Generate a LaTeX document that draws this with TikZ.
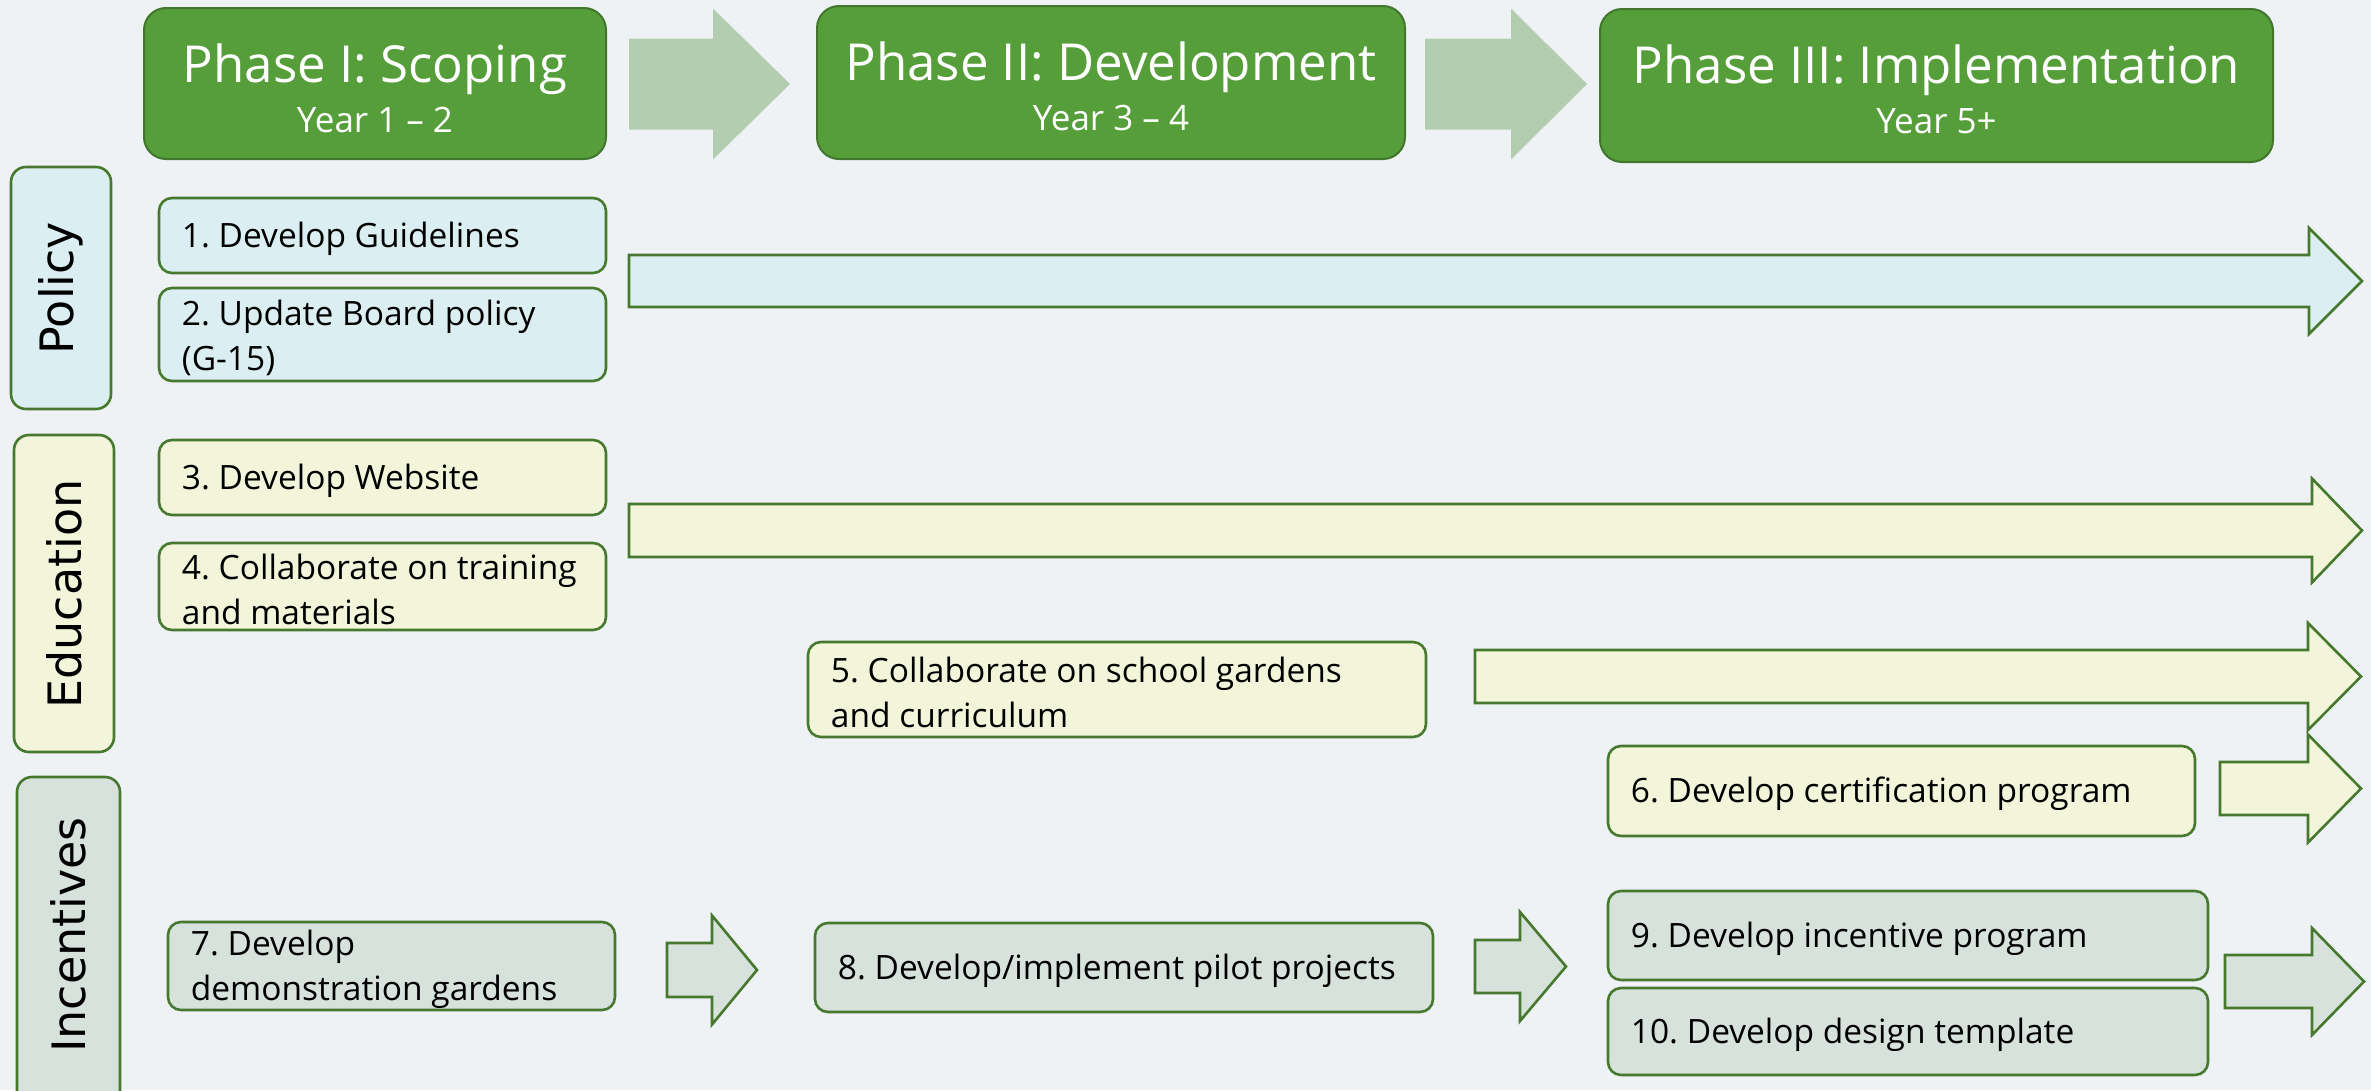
\documentclass[tikz,border=0pt]{standalone}
\usepackage{fontspec}
\setmainfont{Open Sans}
\newfontfamily\labfont{DejaVu Sans}
\definecolor{bg}{HTML}{EEF2F5}
\definecolor{phasefill}{HTML}{559E3A}
\definecolor{phaseline}{HTML}{41762C}
\definecolor{chev}{HTML}{B3CDB0}
\definecolor{polfill}{HTML}{DBEFF2}
\definecolor{edufill}{HTML}{F2F5DA}
\definecolor{incfill}{HTML}{D7E2DC}
\definecolor{edge}{HTML}{46792E}
\newcommand\taskbox[7]{%
  \pgfmathsetmacro\bw{#4-#2}\pgfmathsetmacro\bh{#5-#3}%
  \node[task, fill=#6, minimum width=\bw pt, minimum height=\bh pt] (#1) at ({(#2+#4)/2},{(#3+#5)/2}) {};
  \node[tasktxt] (#1-txt) at ([xshift=24pt,yshift=-3pt]#1.west) {#7};}
\newcommand\sidebox[8]{%
  \pgfmathsetmacro\bw{#4-#2}\pgfmathsetmacro\bh{#5-#3}%
  \node[side, fill=#6, minimum width=\bw pt, minimum height=\bh pt] (#1) at ({(#2+#4)/2},{(#3+#5)/2}) {};
  \node[sidetxt] (#1-txt) at ({(#2+#4)/2},{#7}) {#8};}
\newcommand\phasebox[5]{%
  \pgfmathsetmacro\bw{#4-#2}\pgfmathsetmacro\bh{#5-#3}%
  \node[phase, minimum width=\bw pt, minimum height=\bh pt] (#1) at ({(#2+#4)/2},{(#3+#5)/2}) {};}
\newcommand\blockarrow[7]{%
  \path[#1] ({#2},{#5-#6}) -- ({#3},{#5-#6}) -- ({#3},{#5-#7}) -- ({#4},{#5}) -- ({#3},{#5+#7}) -- ({#3},{#5+#6}) -- ({#2},{#5+#6}) -- cycle;}
\begin{document}
\frenchspacing
\begin{tikzpicture}[x=1pt,y=-1pt,
  phase/.style={draw=phaseline, line width=2pt, fill=phasefill, rounded corners=22pt, inner sep=0pt},
  task/.style={draw=edge, line width=2.6pt, rounded corners=13pt, inner sep=0pt},
  tasktxt/.style={anchor=west, inner sep=0pt, align=left, font=\fontsize{33.5}{45}\selectfont},
  side/.style={draw=edge, line width=2.6pt, rounded corners=15pt, inner sep=0pt},
  sidetxt/.style={rotate=90, inner sep=0pt, font=\labfont\fontsize{46}{50}\selectfont},
  headtxt/.style={text=white, anchor=base, inner sep=0pt, font=\fontsize{51}{55}\selectfont},
  yeartxt/.style={text=white, anchor=base, inner sep=0pt, font=\fontsize{35}{40}\selectfont},
  chevron/.style={fill=chev},
  barrow/.style={draw=edge, line width=2.6pt, line join=miter, fill=#1}
]
\useasboundingbox (0,0) rectangle (2371,1090);
\fill[bg] (0,0) rectangle (2371,1090);

% phase headers
\phasebox{ph1}{144}{8}{606}{159}
\phasebox{ph2}{817}{6}{1405}{159}
\phasebox{ph3}{1600}{9}{2273}{162}
\node[headtxt] (ph1t) at (375,82) {Phase I: Scoping};
\node[yeartxt] (ph1y) at (375,132) {Year 1 – 2};
\node[headtxt] (ph2t) at (1111,80) {Phase II: Development};
\node[yeartxt] (ph2y) at (1111,130) {Year 3 – 4};
\node[headtxt] (ph3t) at (1936.5,83) {Phase III: Implementation};
\node[yeartxt] (ph3y) at (1936.5,133) {Year 5+};

% chevrons between phases
\blockarrow{chevron}{629}{713}{790}{84}{45.5}{75.5}
\blockarrow{chevron}{1425}{1511}{1587}{84}{45.5}{75.5}

% side labels
\sidebox{pol}{11}{167}{111}{409}{polfill}{288}{Policy}
\sidebox{edu}{14}{435}{114}{752}{edufill}{594}{Education}
\sidebox{inc}{17}{777}{120}{1120}{incfill}{935}{Incentives}

% tasks
\taskbox{t1}{159}{198}{606}{273}{polfill}{1. Develop Guidelines}
\taskbox{t2}{159}{288}{606}{381}{polfill}{2. Update Board policy\\(G-15)}
\taskbox{t3}{159}{440}{606}{515}{edufill}{3. Develop Website}
\taskbox{t4}{159}{543}{606}{630}{edufill}{4. Collaborate on training\\and materials}
\taskbox{t5}{808}{642}{1426}{737}{edufill}{5. Collaborate on school gardens\\and curriculum}
\taskbox{t6}{1608}{746}{2195}{836}{edufill}{6. Develop certification program}
\taskbox{t7}{168}{922}{615}{1010}{incfill}{7. Develop\\demonstration gardens}
\taskbox{t8}{815}{923}{1433}{1012}{incfill}{8. Develop/implement pilot projects}
\taskbox{t9}{1608}{891}{2208}{980}{incfill}{9. Develop incentive program}
\taskbox{t10}{1608}{988}{2208}{1075}{incfill}{10. Develop design template}

% block arrows
\blockarrow{barrow=polfill}{629}{2309}{2362}{281}{26}{53}
\blockarrow{barrow=edufill}{629}{2312}{2362}{530.5}{26.5}{52}
\blockarrow{barrow=edufill}{1475}{2308}{2361}{676.5}{26.5}{53.5}
\blockarrow{barrow=edufill}{2220}{2308}{2361}{788.5}{26.5}{54}
\blockarrow{barrow=incfill}{667}{712}{757}{970}{27}{54.5}
\blockarrow{barrow=incfill}{1475}{1520}{1566}{966.5}{26.5}{54.5}
\blockarrow{barrow=incfill}{2225}{2312}{2364}{981.5}{26.5}{53.5}
\end{tikzpicture}
\end{document}
